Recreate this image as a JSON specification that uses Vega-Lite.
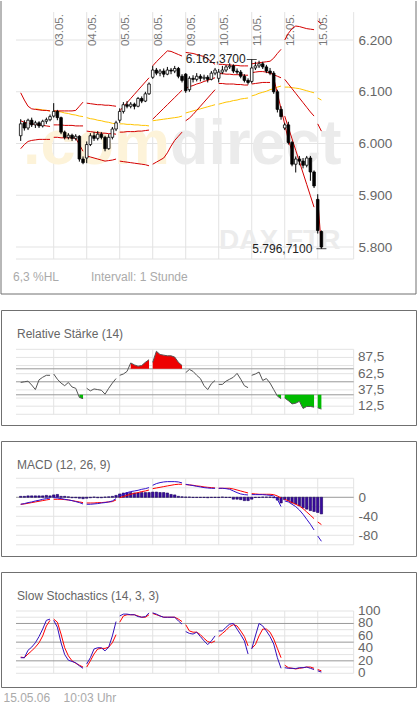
{
"$schema": "https://vega.github.io/schema/vega-lite/v6.json",
"padding": 0,
"background": "white",
"spacing": 16,
"bounds": "flush",
"config": {"view": {"stroke": "#707070", "strokeWidth": 1}, "font": "Liberation Sans", "text": {"font": "Liberation Sans"}},
"title": {"text": "15.05.06\u00a0\u00a0\u00a0\u00a010:03 Uhr", "orient": "bottom", "anchor": "start", "offset": 5, "fontSize": 12, "fontWeight": "normal", "color": "#aaaaaa", "font": "Liberation Sans", "dx": 3},
"datasets": {
"days": [{"i":9,"lab":"03.05."},{"i":18,"lab":"04.05."},{"i":27,"lab":"05.05."},{"i":36,"lab":"08.05."},{"i":45,"lab":"09.05."},{"i":54,"lab":"10.05."},{"i":63,"lab":"11.05."},{"i":72,"lab":"12.05."},{"i":81,"lab":"15.05."}],
"bars": [
{"i":0,"d":0,"o":6015,"h":6047,"l":6005,"c":6038,"u":6098,"m":6044,"lo":5990,"rsi":49,"macd":-14.7,"sig":-14.7,"hist":2,"k":25,"sd":26},
{"i":1,"d":0,"o":6040,"h":6045,"l":6025,"c":6030,"u":6084,"m":6041,"lo":5998,"rsi":50,"macd":-13.3,"sig":-14,"hist":2,"k":25,"sd":25},
{"i":2,"d":0,"o":6030,"h":6048,"l":6026,"c":6045,"u":6072,"m":6039,"lo":6004,"rsi":51,"macd":-11.2,"sig":-12.6,"hist":3,"k":37,"sd":31},
{"i":3,"d":0,"o":6045,"h":6050,"l":6032,"c":6036,"u":6067,"m":6038,"lo":6006,"rsi":45,"macd":-9.8,"sig":-11.2,"hist":3,"k":42,"sd":36},
{"i":4,"d":0,"o":6036,"h":6044,"l":6030,"c":6040,"u":6066,"m":6037,"lo":6007,"ma":6067,"rsi":38,"macd":-7.7,"sig":-9.8,"hist":3,"k":49,"sd":42},
{"i":5,"d":0,"o":6040,"h":6043,"l":6030,"c":6034,"u":6065,"m":6036,"lo":6008,"ma":6066,"rsi":53,"macd":-6.3,"sig":-8.4,"hist":3,"k":59,"sd":49},
{"i":6,"d":0,"o":6034,"h":6046,"l":6031,"c":6043,"u":6064,"m":6035,"lo":6008,"ma":6065,"rsi":57,"macd":-4.2,"sig":-7,"hist":3,"k":71,"sd":60},
{"i":7,"d":0,"o":6043,"h":6050,"l":6038,"c":6046,"u":6064,"m":6034,"lo":6008,"ma":6064,"rsi":60,"macd":-2.8,"sig":-5.6,"hist":4,"k":85,"sd":76},
{"i":8,"d":0,"o":6046,"h":6056,"l":6043,"c":6052,"u":6063,"m":6033,"lo":6008,"ma":6063,"rsi":60,"macd":-1.4,"sig":-4.2,"hist":3,"k":87,"sd":85},
{"i":9,"d":1,"o":6053,"h":6078,"l":6050,"c":6062,"u":6063,"m":6036,"lo":6012,"ma":6063,"rsi":62,"macd":-0.7,"sig":-4.2,"hist":5,"k":85,"sd":87},
{"i":10,"d":1,"o":6062,"h":6065,"l":6045,"c":6050,"u":6063,"m":6036,"lo":6012,"ma":6062,"rsi":54,"macd":-1.4,"sig":-4.2,"hist":6,"k":74,"sd":82},
{"i":11,"d":1,"o":6050,"h":6052,"l":6018,"c":6022,"u":6063,"m":6036,"lo":6011,"ma":6061,"rsi":48,"macd":-2.8,"sig":-4.2,"hist":2,"k":49,"sd":63},
{"i":12,"d":1,"o":6022,"h":6025,"l":6008,"c":6012,"u":6063,"m":6035,"lo":6011,"ma":6059,"rsi":44,"macd":-4.2,"sig":-4.9,"hist":2,"k":30,"sd":41},
{"i":13,"d":1,"o":6012,"h":6020,"l":6008,"c":6016,"u":6063,"m":6035,"lo":6011,"ma":6058,"rsi":49,"macd":-5.6,"sig":-5.6,"hist":1,"k":21,"sd":28},
{"i":14,"d":1,"o":6016,"h":6019,"l":6005,"c":6010,"u":6063,"m":6035,"lo":6011,"ma":6056,"rsi":42,"macd":-7,"sig":-7,"hist":-1,"k":19,"sd":20},
{"i":15,"d":1,"o":6010,"h":6018,"l":6006,"c":6014,"u":6064,"m":6034,"lo":6010,"ma":6055,"rsi":40,"macd":-9.1,"sig":-8.4,"hist":-1,"k":17,"sd":16},
{"i":16,"d":1,"o":6014,"h":6016,"l":5965,"c":5970,"u":6072,"m":6034,"lo":5998,"ma":6053,"rsi":26,"macd":-11.2,"sig":-9.8,"hist":-2,"k":12,"sd":13},
{"i":17,"d":1,"o":5970,"h":5975,"l":5960,"c":5963,"u":6080,"m":6034,"lo":5985,"ma":6052,"rsi":24,"macd":-14,"sig":-11.2,"hist":-3,"k":8,"sd":10},
{"i":18,"d":2,"o":5972,"h":6004,"l":5962,"c":5998,"u":6078,"m":6024,"lo":5976,"ma":6050,"rsi":40,"macd":-14.7,"sig":-12,"hist":-2,"k":15,"sd":10},
{"i":19,"d":2,"o":5998,"h":6020,"l":5995,"c":6015,"u":6077,"m":6023,"lo":5974,"ma":6048,"rsi":36,"macd":-14.7,"sig":-12,"hist":-1,"k":25,"sd":20},
{"i":20,"d":2,"o":6015,"h":6022,"l":6005,"c":6010,"u":6076,"m":6022,"lo":5972,"ma":6047,"rsi":39,"macd":-14,"sig":-12,"hist":0.5,"k":39,"sd":31},
{"i":21,"d":2,"o":6010,"h":6024,"l":6006,"c":6018,"u":6075,"m":6021,"lo":5970,"ma":6045,"rsi":38,"macd":-13.3,"sig":-11.2,"hist":-1,"k":41,"sd":39},
{"i":22,"d":2,"o":6018,"h":6022,"l":6008,"c":6012,"u":6075,"m":6020,"lo":5968,"ma":6044,"rsi":37,"macd":-12,"sig":-11.2,"hist":-1,"k":41,"sd":40},
{"i":23,"d":2,"o":6012,"h":6015,"l":5985,"c":5990,"u":6074,"m":6020,"lo":5966,"ma":6042,"rsi":31,"macd":-11.2,"sig":-10.5,"hist":0.5,"k":36,"sd":40},
{"i":24,"d":2,"o":5990,"h":6018,"l":5988,"c":6012,"u":6074,"m":6019,"lo":5967,"ma":6041,"rsi":40,"macd":-9.8,"sig":-9.8,"hist":1,"k":42,"sd":42},
{"i":25,"d":2,"o":6012,"h":6032,"l":6008,"c":6028,"u":6073,"m":6019,"lo":5968,"ma":6039,"rsi":48,"macd":-7.7,"sig":-9.1,"hist":2,"k":60,"sd":49},
{"i":26,"d":2,"o":6028,"h":6044,"l":6024,"c":6040,"u":6072,"m":6018,"lo":5970,"ma":6038,"rsi":55,"macd":-2.8,"sig":-5.6,"hist":4,"k":83,"sd":62},
{"i":27,"d":3,"o":6045,"h":6068,"l":6040,"c":6062,"u":6063,"m":6022,"lo":5966,"ma":6038,"rsi":60,"macd":2.8,"sig":-0.7,"hist":7,"k":92,"sd":82},
{"i":28,"d":3,"o":6062,"h":6080,"l":6058,"c":6075,"u":6071,"m":6022,"lo":5965,"ma":6038,"rsi":62,"macd":6.3,"sig":1.4,"hist":9,"k":95,"sd":92},
{"i":29,"d":3,"o":6075,"h":6082,"l":6068,"c":6072,"u":6079,"m":6023,"lo":5964,"ma":6037,"rsi":66,"macd":9.8,"sig":4.2,"hist":10,"k":95,"sd":94},
{"i":30,"d":3,"o":6072,"h":6080,"l":6068,"c":6076,"u":6087,"m":6023,"lo":5963,"ma":6037,"rsi":79,"macd":12,"sig":6.3,"hist":10,"k":94,"sd":94},
{"i":31,"d":3,"o":6076,"h":6079,"l":6066,"c":6072,"u":6095,"m":6023,"lo":5962,"ma":6036,"rsi":76,"macd":13.3,"sig":8.4,"hist":9,"k":94,"sd":94},
{"i":32,"d":3,"o":6072,"h":6090,"l":6070,"c":6087,"u":6103,"m":6024,"lo":5961,"ma":6036,"rsi":74,"macd":14.7,"sig":9.8,"hist":9,"k":91,"sd":92},
{"i":33,"d":3,"o":6087,"h":6091,"l":6078,"c":6082,"u":6111,"m":6024,"lo":5960,"ma":6035,"rsi":75,"macd":16.8,"sig":12,"hist":10,"k":90,"sd":90},
{"i":34,"d":3,"o":6082,"h":6100,"l":6080,"c":6096,"u":6119,"m":6025,"lo":5959,"ma":6035,"rsi":80,"macd":18.2,"sig":13.3,"hist":10,"k":91,"sd":90},
{"i":35,"d":3,"o":6096,"h":6118,"l":6094,"c":6115,"u":6127,"m":6026,"lo":5957,"ma":6034,"rsi":84,"macd":20.4,"sig":15.4,"hist":10,"k":97,"sd":94},
{"i":36,"d":4,"o":6128,"h":6150,"l":6125,"c":6142,"u":6150,"m":6047,"lo":5960,"ma":6044,"rsi":80,"macd":25.3,"sig":18.2,"hist":11,"k":97,"sd":96},
{"i":37,"d":4,"o":6142,"h":6146,"l":6132,"c":6136,"u":6158,"m":6054,"lo":5964,"ma":6045,"rsi":97,"macd":28.8,"sig":19.6,"hist":11,"k":95,"sd":94},
{"i":38,"d":4,"o":6136,"h":6144,"l":6130,"c":6140,"u":6165,"m":6061,"lo":5968,"ma":6046,"rsi":92,"macd":30.9,"sig":21,"hist":10,"k":92,"sd":92},
{"i":39,"d":4,"o":6140,"h":6145,"l":6128,"c":6134,"u":6172,"m":6068,"lo":5972,"ma":6047,"rsi":91,"macd":32.3,"sig":22.5,"hist":10,"k":90,"sd":90},
{"i":40,"d":4,"o":6134,"h":6148,"l":6132,"c":6142,"u":6179,"m":6075,"lo":5982,"ma":6048,"rsi":90,"macd":33,"sig":23.9,"hist":9,"k":90,"sd":90},
{"i":41,"d":4,"o":6142,"h":6146,"l":6134,"c":6140,"u":6178,"m":6082,"lo":5995,"ma":6049,"rsi":90,"macd":33,"sig":25.3,"hist":6,"k":90,"sd":90},
{"i":42,"d":4,"o":6140,"h":6150,"l":6136,"c":6145,"u":6175,"m":6089,"lo":6006,"ma":6050,"rsi":88,"macd":33,"sig":26.7,"hist":5,"k":90,"sd":90},
{"i":43,"d":4,"o":6145,"h":6148,"l":6126,"c":6130,"u":6172,"m":6096,"lo":6014,"ma":6051,"rsi":80,"macd":32.3,"sig":27.4,"hist":2,"k":84,"sd":87},
{"i":44,"d":4,"o":6130,"h":6134,"l":6118,"c":6122,"u":6169,"m":6103,"lo":6022,"ma":6053,"rsi":75,"macd":30.2,"sig":27.4,"hist":1,"k":79,"sd":83},
{"i":45,"d":5,"o":6134,"h":6136,"l":6098,"c":6102,"u":6176,"m":6107,"lo":6044,"ma":6059,"rsi":64,"macd":27.4,"sig":26.7,"hist":0.5,"k":67,"sd":78},
{"i":46,"d":5,"o":6104,"h":6130,"l":6100,"c":6126,"u":6175,"m":6110,"lo":6049,"ma":6061,"rsi":69,"macd":26,"sig":26,"hist":0.5,"k":64,"sd":68},
{"i":47,"d":5,"o":6126,"h":6132,"l":6118,"c":6124,"u":6174,"m":6112,"lo":6056,"ma":6063,"rsi":66,"macd":24.6,"sig":25.3,"hist":-0.5,"k":63,"sd":66},
{"i":48,"d":5,"o":6124,"h":6136,"l":6120,"c":6130,"u":6172,"m":6115,"lo":6064,"ma":6065,"rsi":60,"macd":23.2,"sig":23.9,"hist":-0.5,"k":66,"sd":66},
{"i":49,"d":5,"o":6130,"h":6134,"l":6120,"c":6126,"u":6170,"m":6117,"lo":6072,"ma":6067,"rsi":55,"macd":21.8,"sig":23.2,"hist":-0.5,"k":59,"sd":62},
{"i":50,"d":5,"o":6126,"h":6133,"l":6122,"c":6128,"u":6168,"m":6120,"lo":6080,"ma":6069,"rsi":44,"macd":20.4,"sig":21.8,"hist":-0.5,"k":52,"sd":56},
{"i":51,"d":5,"o":6128,"h":6132,"l":6118,"c":6124,"u":6164,"m":6122,"lo":6088,"ma":6071,"rsi":38,"macd":19.6,"sig":21,"hist":-1,"k":46,"sd":51},
{"i":52,"d":5,"o":6124,"h":6140,"l":6122,"c":6136,"u":6158,"m":6125,"lo":6096,"ma":6073,"rsi":47,"macd":18.9,"sig":20.4,"hist":-0.5,"k":52,"sd":49},
{"i":53,"d":5,"o":6136,"h":6146,"l":6132,"c":6142,"u":6153,"m":6127,"lo":6104,"ma":6075,"rsi":52,"macd":18.9,"sig":19.6,"hist":-0.5,"k":60,"sd":52},
{"i":54,"d":6,"o":6126,"h":6144,"l":6118,"c":6138,"u":6153,"m":6135,"lo":6116,"ma":6076,"rsi":46,"macd":18.9,"sig":18.9,"hist":-0.5,"k":68,"sd":59},
{"i":55,"d":6,"o":6138,"h":6150,"l":6134,"c":6142,"u":6153,"m":6135,"lo":6116,"ma":6078,"rsi":46,"macd":18.9,"sig":18.9,"hist":0.5,"k":68,"sd":64},
{"i":56,"d":6,"o":6142,"h":6152,"l":6138,"c":6148,"u":6152,"m":6134,"lo":6115,"ma":6080,"rsi":51,"macd":18.2,"sig":18.9,"hist":-0.5,"k":74,"sd":69},
{"i":57,"d":6,"o":6148,"h":6155,"l":6144,"c":6150,"u":6152,"m":6134,"lo":6115,"ma":6081,"rsi":54,"macd":16.8,"sig":18.9,"hist":-0.5,"k":79,"sd":75},
{"i":58,"d":6,"o":6150,"h":6153,"l":6136,"c":6140,"u":6151,"m":6133,"lo":6115,"ma":6083,"rsi":57,"macd":13.3,"sig":17.5,"hist":-4,"k":80,"sd":78},
{"i":59,"d":6,"o":6140,"h":6145,"l":6134,"c":6138,"u":6151,"m":6133,"lo":6114,"ma":6084,"rsi":63,"macd":9.8,"sig":15.4,"hist":-4,"k":71,"sd":76},
{"i":60,"d":6,"o":6138,"h":6142,"l":6126,"c":6130,"u":6150,"m":6133,"lo":6114,"ma":6086,"rsi":54,"macd":7,"sig":13.3,"hist":-5,"k":62,"sd":68},
{"i":61,"d":6,"o":6130,"h":6134,"l":6118,"c":6122,"u":6150,"m":6132,"lo":6113,"ma":6087,"rsi":44,"macd":5.6,"sig":11.2,"hist":-7,"k":52,"sd":59},
{"i":62,"d":6,"o":6122,"h":6126,"l":6114,"c":6118,"u":6150,"m":6132,"lo":6113,"ma":6088,"rsi":41,"macd":4.9,"sig":9.1,"hist":-7,"k":31,"sd":44},
{"i":63,"d":7,"o":6120,"h":6162.37,"l":6116,"c":6146,"u":6154,"m":6137,"lo":6115,"ma":6092,"rsi":60,"macd":5.6,"sig":7.7,"hist":-4,"k":39,"sd":40},
{"i":64,"d":7,"o":6146,"h":6158,"l":6142,"c":6150,"u":6155,"m":6138,"lo":6116,"ma":6094,"rsi":62,"macd":5.6,"sig":7,"hist":-0.5,"k":60,"sd":46},
{"i":65,"d":7,"o":6150,"h":6160,"l":6146,"c":6154,"u":6156,"m":6139,"lo":6117,"ma":6097,"rsi":65,"macd":5.6,"sig":6.3,"hist":-0.5,"k":80,"sd":60},
{"i":66,"d":7,"o":6154,"h":6158,"l":6144,"c":6148,"u":6157,"m":6139,"lo":6118,"ma":6099,"rsi":52,"macd":5.6,"sig":6.3,"hist":0.5,"k":76,"sd":71},
{"i":67,"d":7,"o":6148,"h":6152,"l":6136,"c":6140,"u":6158,"m":6138,"lo":6118,"ma":6101,"rsi":55,"macd":4.9,"sig":6.3,"hist":0.5,"k":68,"sd":71},
{"i":68,"d":7,"o":6140,"h":6146,"l":6132,"c":6136,"u":6159,"m":6136,"lo":6118,"ma":6104,"rsi":48,"macd":4.2,"sig":6.3,"hist":0.5,"k":59,"sd":66},
{"i":69,"d":7,"o":6136,"h":6140,"l":6096,"c":6100,"u":6165,"m":6133,"dv":6126,"ma":6106,"rsi":38,"macd":2.8,"sig":5.6,"hist":-1,"k":47,"sd":55},
{"i":70,"d":7,"o":6100,"h":6104,"l":6060,"c":6066,"u":6174,"m":6130,"dv":6097,"ma":6109,"rsi":28,"macd":-4.2,"sig":2.8,"hist":-6,"k":25,"sd":40},
{"i":71,"d":7,"o":6066,"h":6072,"l":6046,"c":6052,"u":6182,"m":6127,"dv":6067,"ma":6111,"rsi":24,"macd":-19.6,"sig":-1.4,"hist":-12,"k":8,"sd":25},
{"i":72,"d":8,"o":6030,"h":6040,"l":6026,"c":6036,"u":6200,"m":6124,"lo":6053,"dv":6037,"ma":6109,"rsi":25,"macd":-7.7,"sig":-4.2,"hist":-5,"k":9,"sd":13},
{"i":73,"d":8,"o":6036,"h":6042,"l":5998,"c":6002,"u":6213,"m":6115,"lo":6031,"dv":6007,"ma":6109,"rsi":21,"macd":-9.8,"sig":-7.7,"hist":-7,"k":8,"sd":9},
{"i":74,"d":8,"o":6002,"h":6005,"l":5956,"c":5960,"u":6222,"m":6106,"lo":6009,"dv":5985,"ma":6108,"rsi":16,"macd":-14.7,"sig":-11.2,"hist":-12,"k":8,"sd":8},
{"i":75,"d":8,"o":5960,"h":5975,"l":5944,"c":5970,"u":6227,"m":6097,"lo":5987,"ma":6107,"rsi":17,"macd":-19.6,"sig":-14.7,"hist":-14,"k":7.5,"sd":7},
{"i":76,"d":8,"o":5970,"h":5976,"l":5958,"c":5966,"u":6226,"m":6088,"lo":5965,"ma":6106,"rsi":20,"macd":-26.7,"sig":-18.2,"hist":-18,"k":9,"sd":8},
{"i":77,"d":8,"o":5966,"h":5972,"l":5952,"c":5958,"u":6224,"m":6079,"lo":5943,"ma":6104,"rsi":9,"macd":-35.8,"sig":-23.9,"hist":-22,"k":9,"sd":9},
{"i":78,"d":8,"o":5958,"h":5976,"l":5954,"c":5972,"u":6222,"m":6070,"lo":5921,"ma":6102,"rsi":12,"macd":-46.3,"sig":-30.9,"hist":-25,"k":10,"sd":10},
{"i":79,"d":8,"o":5972,"h":5976,"l":5928,"c":5945,"u":6221,"m":6061,"lo":5899,"ma":6100,"rsi":12,"macd":-56.8,"sig":-37.9,"hist":-28,"k":8,"sd":10},
{"i":80,"d":8,"o":5945,"h":5948,"l":5914,"c":5918,"u":6220,"m":6053,"lo":5877,"ma":6098,"rsi":11,"macd":-68.8,"sig":-44.9,"hist":-30,"k":6,"sd":8},
{"i":81,"d":9,"o":5892,"h":5902,"l":5826,"c":5832,"u":6237,"m":6038,"lo":5893,"ma":6088,"rsi":10,"macd":-81.4,"sig":-51.9,"hist":-32,"k":4,"sd":6},
{"i":82,"d":9,"o":5830,"h":5832,"l":5796.71,"c":5800,"u":6231,"m":6024,"lo":5800,"ma":6084,"rsi":8,"macd":-92.6,"sig":-57.5,"hist":-35,"k":2,"sd":4}
]
},
"vconcat": [
{
"width": 415, "height": 293, "view": {"stroke": null},
"layer": [
{"data": {"values": [{"v":5776.8},{"v":5800},{"v":5900},{"v":6000},{"v":6100},{"v":6200}]}, "mark": {"type":"rule","color":"#e3e3e3"},
 "encoding": {"y": {"field":"v","type":"quantitative","scale":{"domain":[5709.2,6275.4],"nice":false,"zero":false,"padding":0},
   "axis": {"orient":"right","offset":-58,"values":[5800,5900,6000,6100,6200],"labelExpr":"replace(format(datum.value, ','), ',', '.')","ticks":false,"tickSize":0,"domain":false,"grid":false,"labelPadding":0,"labelAlign":"left","labelBaseline":"middle","labelFontSize":13.5,"labelColor":"#666666","labelFont":"Liberation Sans","title":null}},
  "x": {"datum":-1.28,"type":"quantitative","scale":{"domain":[-5.372,107.8],"nice":false,"zero":false,"padding":0},"axis":null},
  "x2": {"datum":90.8}}},
{"data": {"name":"days"}, "mark": {"type":"rule","color":"#e3e3e3"},
 "encoding": {"x": {"field":"i","type":"quantitative","axis":null},
  "y": {"datum":5776.8,"type":"quantitative"},"y2": {"datum":6254}}},
{"data": {"values":[{}]}, "mark": {"type":"rule","color":"#e3e3e3"},
 "encoding": {"x": {"datum":90.8,"type":"quantitative","axis":null},
  "y": {"datum":5776.8,"type":"quantitative"},"y2": {"datum":6254}}},
{"data": {"values":[{}]}, "mark": {"type":"text","align":"left","baseline":"alphabetic","fontSize":63,"fontWeight":"bold","color":"#fdf3d9","text":".com"},
 "encoding": {"x": {"datum":0.63,"type":"quantitative","axis":null},
  "y": {"datum":5960.4,"type":"quantitative"}}},
{"data": {"values":[{}]}, "mark": {"type":"text","align":"left","baseline":"alphabetic","fontSize":63,"fontWeight":"bold","color":"#ebebeb","text":"direct"},
 "encoding": {"x": {"datum":40.7,"type":"quantitative","axis":null},
  "y": {"datum":5960.4,"type":"quantitative"}}},
{"data": {"values":[{}]}, "mark": {"type":"text","align":"left","baseline":"alphabetic","fontSize":28,"fontWeight":"bold","color":"#ececec","text":"DAX FTR"},
 "encoding": {"x": {"datum":54.1,"type":"quantitative","axis":null},
  "y": {"datum":5796,"type":"quantitative"}}},
{"data": {"name":"days"}, "mark": {"type":"text","angle":270,"align":"left","baseline":"top","fontSize":11.5,"color":"#777777"},
 "encoding": {"x": {"field":"i","type":"quantitative","axis":null},
  "y": {"datum":6188.4,"type":"quantitative"},
  "text": {"field":"lab"}}},
{"data": {"name":"bars"}, "transform": [{"filter":"isValid(datum.ma)"}], "mark": {"type":"line","color":"#ffc400","strokeWidth":1},
 "encoding": {"x": {"field":"i","type":"quantitative","axis":null},
  "y": {"field":"ma","type":"quantitative"},"detail": {"field":"d","type":"nominal"}}},
{"data": {"name":"bars"}, "mark": {"type":"line","color":"#d40000","strokeWidth":1},
 "encoding": {"x": {"field":"i","type":"quantitative","axis":null},
  "y": {"field":"u","type":"quantitative"},"detail": {"field":"d","type":"nominal"}}},
{"data": {"name":"bars"}, "mark": {"type":"line","color":"#d40000","strokeWidth":1},
 "encoding": {"x": {"field":"i","type":"quantitative","axis":null},
  "y": {"field":"m","type":"quantitative"},"detail": {"field":"d","type":"nominal"}}},
{"data": {"name":"bars"}, "transform": [{"filter":"isValid(datum.lo)"}], "mark": {"type":"line","color":"#d40000","strokeWidth":1},
 "encoding": {"x": {"field":"i","type":"quantitative","axis":null},
  "y": {"field":"lo","type":"quantitative"},"detail": {"field":"d","type":"nominal"}}},
{"data": {"name":"bars"}, "transform": [{"filter":"isValid(datum.dv)"}], "mark": {"type":"line","color":"#d40000","strokeWidth":1},
 "encoding": {"x": {"field":"i","type":"quantitative","axis":null},
  "y": {"field":"dv","type":"quantitative"}}},
{"data": {"name":"bars"}, "mark": {"type":"rule","color":"black","strokeWidth":1},
 "encoding": {"x": {"field":"i","type":"quantitative","axis":null},
  "y": {"field":"l","type":"quantitative"},"y2": {"field":"h"}}},
{"data": {"name":"bars"}, "mark": {"type":"bar","width":2.6,"stroke":"black","strokeWidth":0.8},
 "encoding": {"x": {"field":"i","type":"quantitative","axis":null},
  "y": {"field":"o","type":"quantitative"},"y2": {"field":"c"},
  "fill": {"condition": {"test":"datum.c > datum.o","value":"white"},"value":"black"}}},
{"data": {"name":"bars"}, "transform": [{"filter":"datum.i == 63"}], "mark": {"type":"tick","orient":"horizontal","size":10,"thickness":1,"color":"black"},
 "encoding": {"x": {"field":"i","type":"quantitative","axis":null},
  "y": {"field":"h","type":"quantitative"}}},
{"data": {"name":"bars"}, "transform": [{"filter":"datum.i == 63"}], "mark": {"type":"text","align":"right","baseline":"middle","dx":-6,"fontSize":12,"color":"#222222","text":"6.162,3700"},
 "encoding": {"x": {"field":"i","type":"quantitative","axis":null},
  "y": {"field":"h","type":"quantitative"}}},
{"data": {"name":"bars"}, "transform": [{"filter":"datum.i == 82"}], "mark": {"type":"tick","orient":"horizontal","size":10,"thickness":1,"color":"black"},
 "encoding": {"x": {"field":"i","type":"quantitative","axis":null},
  "y": {"field":"l","type":"quantitative"}}},
{"data": {"name":"bars"}, "transform": [{"filter":"datum.i == 82"}], "mark": {"type":"text","align":"right","baseline":"middle","dx":-9,"fontSize":12,"color":"#222222","text":"5.796,7100"},
 "encoding": {"x": {"field":"i","type":"quantitative","axis":null},
  "y": {"field":"l","type":"quantitative"}}},
{"data": {"values":[{}]}, "mark": {"type":"text","align":"left","baseline":"middle","fontSize":12,"color":"#aaaaaa","text":"6,3 %HL"},
 "encoding": {"x": {"datum":-2.1,"type":"quantitative","axis":null},
  "y": {"datum":5742,"type":"quantitative"}}},
{"data": {"values":[{}]}, "mark": {"type":"text","align":"left","baseline":"middle","fontSize":12,"color":"#aaaaaa","text":"Intervall: 1 Stunde"},
 "encoding": {"x": {"datum":19.17,"type":"quantitative","axis":null},
  "y": {"datum":5742,"type":"quantitative"}}},
{"data": {"values":[{"x":-5.372},{"x":107.8}]}, "mark": {"type":"rule","color":"#707070"},
 "encoding": {"x": {"field":"x","type":"quantitative","axis":null},
  "y": {"datum":5709.2,"type":"quantitative"},"y2": {"datum":6275.4}}},
{"data": {"values":[{}]}, "mark": {"type":"rule","color":"#707070"},
 "encoding": {"x": {"datum":-5.372,"type":"quantitative","axis":null},"x2": {"datum":107.8},
  "y": {"datum":5709.2,"type":"quantitative"}}}
]
},
{
"width": 415, "height": 115,
"layer": [
{"data": {"values": [{"v":0},{"v":12.5},{"v":25},{"v":37.5},{"v":62.5},{"v":75},{"v":87.5},{"v":100}]}, "mark": {"type":"rule","color":"#e3e3e3"},
 "encoding": {"y": {"field":"v","type":"quantitative","scale":{"domain":[-16.5,160.5],"nice":false,"zero":false,"padding":0},"axis":null},
  "x": {"datum":-1.28,"type":"quantitative","scale":{"domain":[-5.372,107.8],"nice":false,"zero":false,"padding":0},"axis":null},
  "x2": {"datum":90.8}}},
{"data": {"name":"days"}, "mark": {"type":"rule","color":"#e3e3e3"},
 "encoding": {"x": {"field":"i","type":"quantitative","axis":null},
  "y": {"datum":0,"type":"quantitative","axis":null},"y2": {"datum":100}}},
{"data": {"values":[{}]}, "mark": {"type":"rule","color":"#e3e3e3"},
 "encoding": {"x": {"datum":90.8,"type":"quantitative","axis":null},
  "y": {"datum":0,"type":"quantitative","axis":null},"y2": {"datum":100}}},
{"data": {"values": [{"v":30},{"v":50},{"v":70}]}, "mark": {"type":"rule","color":"#999999"},
 "encoding": {"y": {"field":"v","type":"quantitative","axis":null},
  "x": {"datum":-1.28,"type":"quantitative","axis":null},
  "x2": {"datum":90.8}}},
{"data": {"values": [{"v":12.5,"t":"12,5"},{"v":37.5,"t":"37,5"},{"v":62.5,"t":"62,5"},{"v":87.5,"t":"87,5"}]}, "mark": {"type":"text","align":"left","baseline":"middle","fontSize":13.5,"color":"#666666"},
 "encoding": {"y": {"field":"v","type":"quantitative","axis":null},
  "x": {"datum":92,"type":"quantitative","axis":null},
  "text": {"field":"t"}}},
{"data": {"name":"bars"}, "transform": [{"filter":"datum.rsi > 70"}], "mark": {"type":"area","color":"#ee0000","opacity":1},
 "encoding": {"x": {"field":"i","type":"quantitative","axis":null},
  "y": {"field":"rsi","type":"quantitative","axis":null},"y2": {"datum":70},"detail": {"field":"d","type":"nominal"}}},
{"data": {"name":"bars"}, "transform": [{"filter":"datum.rsi < 30"}], "mark": {"type":"area","color":"#00bb00","opacity":1},
 "encoding": {"x": {"field":"i","type":"quantitative","axis":null},
  "y": {"field":"rsi","type":"quantitative","axis":null},"y2": {"datum":30},"detail": {"field":"d","type":"nominal"}}},
{"data": {"name":"bars"}, "mark": {"type":"line","color":"#555555","strokeWidth":1},
 "encoding": {"x": {"field":"i","type":"quantitative","axis":null},
  "y": {"field":"rsi","type":"quantitative","axis":null},"detail": {"field":"d","type":"nominal"}}},
{"data": {"values":[{}]}, "mark": {"type":"text","align":"left","baseline":"middle","fontSize":12,"color":"#666666","text":"Relative Stärke (14)"},
 "encoding": {"x": {"datum":-1.0,"type":"quantitative","axis":null},
  "y": {"datum":123.1,"type":"quantitative","axis":null}}}
]
},
{
"width": 415, "height": 115,
"layer": [
{"data": {"values": [{"v":40},{"v":20},{"v":-20},{"v":-40},{"v":-60},{"v":-80},{"v":-100}]}, "mark": {"type":"rule","color":"#e3e3e3"},
 "encoding": {"y": {"field":"v","type":"quantitative","scale":{"domain":[-123.6,118.5],"nice":false,"zero":false,"padding":0},
   "axis": {"orient":"right","offset":-58,"values":[0,-40,-80],"labelExpr":"datum.value < 0 ? '-' + (-datum.value) : '' + datum.value","ticks":false,"tickSize":0,"domain":false,"grid":false,"labelPadding":0,"labelAlign":"left","labelBaseline":"middle","labelFontSize":13.5,"labelColor":"#666666","labelFont":"Liberation Sans","title":null}},
  "x": {"datum":-1.28,"type":"quantitative","scale":{"domain":[-5.372,107.8],"nice":false,"zero":false,"padding":0},"axis":null},
  "x2": {"datum":90.8}}},
{"data": {"name":"days"}, "mark": {"type":"rule","color":"#e3e3e3"},
 "encoding": {"x": {"field":"i","type":"quantitative","axis":null},
  "y": {"datum":-100,"type":"quantitative"},"y2": {"datum":40}}},
{"data": {"values":[{}]}, "mark": {"type":"rule","color":"#e3e3e3"},
 "encoding": {"x": {"datum":90.8,"type":"quantitative","axis":null},
  "y": {"datum":-100,"type":"quantitative"},"y2": {"datum":40}}},
{"data": {"values":[{}]}, "mark": {"type":"rule","color":"#999999"},
 "encoding": {"y": {"datum":0,"type":"quantitative"},
  "x": {"datum":-1.28,"type":"quantitative","axis":null},
  "x2": {"datum":90.8}}},
{"data": {"name":"bars"}, "mark": {"type":"bar","width":2.4,"fill":"#3a0aa0","stroke":"#1a0060","strokeWidth":0.6},
 "encoding": {"x": {"field":"i","type":"quantitative","axis":null},
  "y": {"field":"hist","type":"quantitative"},"y2": {"datum":0}}},
{"data": {"name":"bars"}, "mark": {"type":"line","color":"#ff0000","strokeWidth":1},
 "encoding": {"x": {"field":"i","type":"quantitative","axis":null},
  "y": {"field":"sig","type":"quantitative"},"detail": {"field":"d","type":"nominal"}}},
{"data": {"name":"bars"}, "mark": {"type":"line","color":"#3311cc","strokeWidth":1},
 "encoding": {"x": {"field":"i","type":"quantitative","axis":null},
  "y": {"field":"macd","type":"quantitative"},"detail": {"field":"d","type":"nominal"}}},
{"data": {"values":[{}]}, "mark": {"type":"text","align":"left","baseline":"middle","fontSize":12,"color":"#666666","text":"MACD (12, 26, 9)"},
 "encoding": {"x": {"datum":-1.0,"type":"quantitative","axis":null},
  "y": {"datum":68,"type":"quantitative"}}}
]
},
{
"width": 415, "height": 115,
"layer": [
{"data": {"values": [{"v":0},{"v":10},{"v":30},{"v":40},{"v":60},{"v":70},{"v":90},{"v":100}]}, "mark": {"type":"rule","color":"#e3e3e3"},
 "encoding": {"y": {"field":"v","type":"quantitative","scale":{"domain":[-22,162.6],"nice":false,"zero":false,"padding":0},"axis":null},
  "x": {"datum":-1.28,"type":"quantitative","scale":{"domain":[-5.372,107.8],"nice":false,"zero":false,"padding":0},"axis":null},
  "x2": {"datum":90.8}}},
{"data": {"name":"days"}, "mark": {"type":"rule","color":"#e3e3e3"},
 "encoding": {"x": {"field":"i","type":"quantitative","axis":null},
  "y": {"datum":0,"type":"quantitative","axis":null},"y2": {"datum":100}}},
{"data": {"values":[{}]}, "mark": {"type":"rule","color":"#e3e3e3"},
 "encoding": {"x": {"datum":90.8,"type":"quantitative","axis":null},
  "y": {"datum":0,"type":"quantitative","axis":null},"y2": {"datum":100}}},
{"data": {"values": [{"v":20},{"v":50},{"v":80}]}, "mark": {"type":"rule","color":"#999999"},
 "encoding": {"y": {"field":"v","type":"quantitative","axis":null},
  "x": {"datum":-1.28,"type":"quantitative","axis":null},
  "x2": {"datum":90.8}}},
{"data": {"values": [{"v":0,"t":"0"},{"v":20,"t":"20"},{"v":40,"t":"40"},{"v":60,"t":"60"},{"v":80,"t":"80"},{"v":100,"t":"100"}]}, "mark": {"type":"text","align":"left","baseline":"middle","fontSize":13.5,"color":"#666666"},
 "encoding": {"y": {"field":"v","type":"quantitative","axis":null},
  "x": {"datum":92,"type":"quantitative","axis":null},
  "text": {"field":"t"}}},
{"data": {"name":"bars"}, "mark": {"type":"line","color":"#ff0000","strokeWidth":1},
 "encoding": {"x": {"field":"i","type":"quantitative","axis":null},
  "y": {"field":"sd","type":"quantitative","axis":null},"detail": {"field":"d","type":"nominal"}}},
{"data": {"name":"bars"}, "mark": {"type":"line","color":"#3311bb","strokeWidth":1},
 "encoding": {"x": {"field":"i","type":"quantitative","axis":null},
  "y": {"field":"k","type":"quantitative","axis":null},"detail": {"field":"d","type":"nominal"}}},
{"data": {"values":[{}]}, "mark": {"type":"text","align":"left","baseline":"middle","fontSize":12,"color":"#666666","text":"Slow Stochastics (14, 3, 3)"},
 "encoding": {"x": {"datum":-1.0,"type":"quantitative","axis":null},
  "y": {"datum":124.1,"type":"quantitative","axis":null}}}
]
}
]
}
